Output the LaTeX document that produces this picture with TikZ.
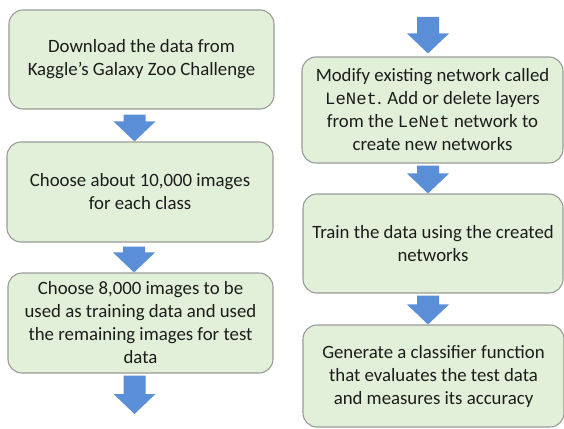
\documentclass[tikz,border=0pt]{standalone}
\usepackage{fontspec}
\setmainfont{Carlito}
\setmonofont[Scale=0.92]{Liberation Mono}
\usetikzlibrary{calc}

\definecolor{boxfill}{HTML}{E2F0D9}
\definecolor{boxline}{HTML}{9A9A9A}
\definecolor{arrowblue}{HTML}{5A8FD8}
\definecolor{txtgray}{HTML}{1C1C1C}

\tikzset{
  stepbox/.style={draw=boxline, fill=boxfill, line width=1.1pt, rounded corners=14pt,
    align=center, text=txtgray, inner sep=0pt, font=\fontsize{18.8}{23}\selectfont},
  downarrow/.style={fill=arrowblue, to path={let \p1=(\tikztostart), \p2=(\tikztotarget) in
    (\x1-11pt,\y1) -- (\x1+11pt,\y1) -- (\x1+11pt,\y2+20pt) -- (\x1+21pt,\y2+20pt)
    -- (\x1,\y2) -- (\x1-21pt,\y2+20pt) -- (\x1-11pt,\y2+20pt) -- cycle}}
}

\begin{document}
\begin{tikzpicture}[x=1pt, y=-1pt]
  \useasboundingbox (0,0) rectangle (564,428);

  % Cột trái
  \node[stepbox, minimum width=265pt, minimum height=99pt] (b1) at (141.5,59.5)
    {Download the data from\\Kaggle's Galaxy Zoo Challenge};
  \node[stepbox, minimum width=266pt, minimum height=100pt] (b2) at (140,192)
    {Choose about 10,000 images\\for each class};
  \node[stepbox, minimum width=265pt, minimum height=100pt] (b3) at (140.5,323)
    {Choose 8,000 images to be\\used as training data and used\\the remaining images for test\\data};
  \coordinate (out3) at (134,414);

  % Cột phải
  \coordinate (in4) at (428,17);
  \node[stepbox, minimum width=261pt, minimum height=106pt] (b4) at (432.5,110)
    {Modify existing network called\\\texttt{LeNet}. Add or delete layers\\from the \texttt{LeNet} network to\\create new networks};
  \node[stepbox, minimum width=260pt, minimum height=99pt] (b5) at (433,243.5)
    {Train the data using the created\\networks};
  \node[stepbox, minimum width=261pt, minimum height=102pt] (b6) at (433.5,376)
    {Generate a classifier function\\that evaluates the test data\\and measures its accuracy};

  % Mũi tên
  \path[downarrow] ([xshift=-7pt,yshift=-5pt]b1.south) to (b2.north);
  \path[downarrow] ([xshift=-6pt,yshift=-4pt]b2.south) to (b3.north);
  \path[downarrow] ([xshift=-6pt,yshift=-2pt]b3.south) to (out3);
  \path[downarrow] (in4) to ([yshift=3pt]b4.north);
  \path[downarrow] ([xshift=-4.5pt,yshift=-2pt]b4.south) to (b5.north);
  \path[downarrow] ([xshift=-5pt,yshift=-2pt]b5.south) to (b6.north);
\end{tikzpicture}
\end{document}
